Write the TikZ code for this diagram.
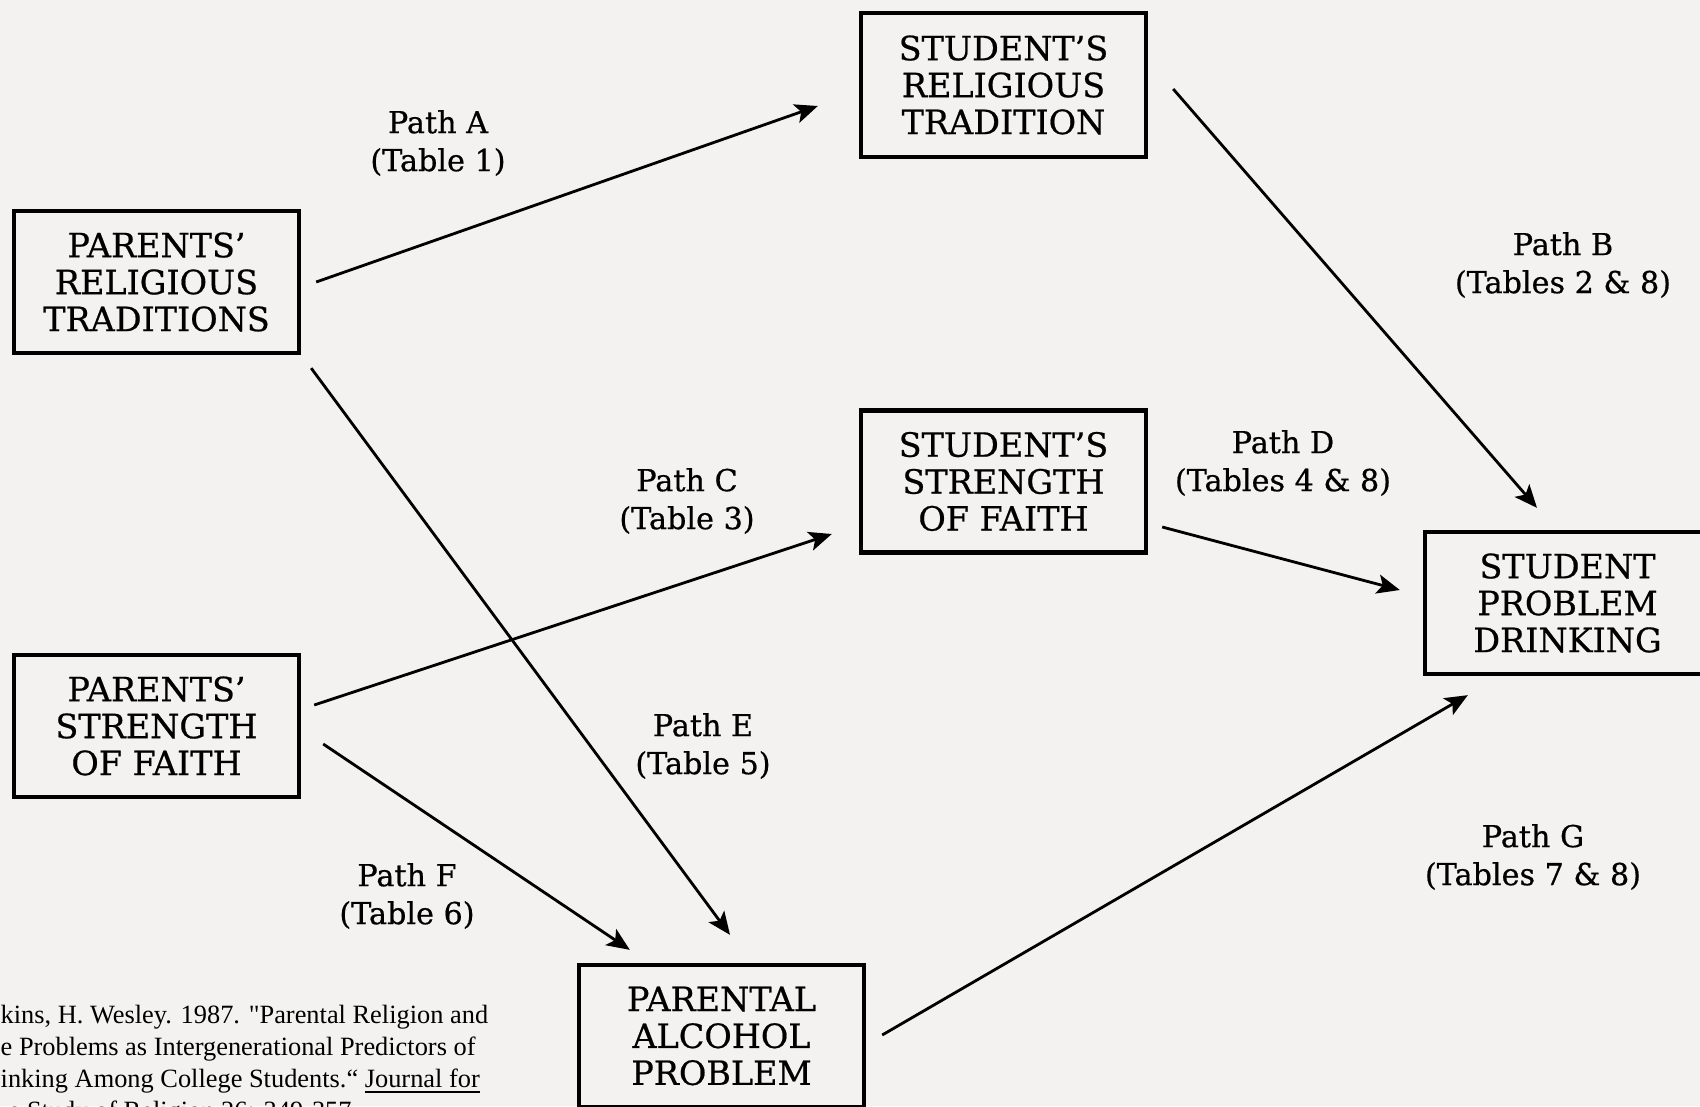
\documentclass[tikz,border=0pt]{standalone}
\usepackage{fontspec}
\setmainfont{DejaVu Serif}[FakeBold=0.6]
\newfontfamily\citefont{Liberation Serif}
\usetikzlibrary{arrows.meta}
\definecolor{paper}{RGB}{244,242,240}
\begin{document}
\begin{tikzpicture}[x=0.01cm,y=-0.01cm,
	box/.style={draw,line width=1.2pt,minimum width=2.85cm,minimum height=1.42cm,align=center,inner sep=0pt,font=\fontsize{9.5}{10.5}\selectfont},
	path label/.style={align=center,inner sep=0pt,font=\fontsize{8.6}{10.8}\selectfont},
	arr/.style={-{Stealth[length=6.5pt,width=5.5pt,inset=1.5pt]},line width=0.8pt},
	cite/.style={anchor=base west,inner sep=0pt,font=\citefont\fontsize{7.5}{8.8}\selectfont}]
		\fill[paper] (0,0) rectangle (1700,1106);
		\useasboundingbox (0,0) rectangle (1700,1106);
		\clip (0,0) rectangle (1700,1106);

		\node(1) at (156.5,282)[box]{PARENTS'\\RELIGIOUS\\TRADITIONS};
		\node(2) at (156.5,726)[box]{PARENTS'\\STRENGTH\\OF FAITH};
		\node(3) at (1003.5,85)[box,minimum height=1.44cm]{STUDENT'S\\RELIGIOUS\\TRADITION};
		\node(4) at (1003.5,481.5)[box]{STUDENT'S\\STRENGTH\\OF FAITH};
		\node(5) at (1567.5,603)[box]{STUDENT\\PROBLEM\\DRINKING};
		\node(6) at (721.5,1036)[box]{PARENTAL\\ALCOHOL\\PROBLEM};

		\node(A) at (438,143)[path label]{Path A\\(Table 1)};
		\node(B) at (1563,265)[path label]{Path B\\(Tables 2 \& 8)};
		\node(C) at (687,501)[path label]{Path C\\(Table 3)};
		\node(D) at (1283,463)[path label]{Path D\\(Tables 4 \& 8)};
		\node(E) at (703,746)[path label]{Path E\\(Table 5)};
		\node(F) at (407,896)[path label]{Path F\\(Table 6)};
		\node(G) at (1533,857)[path label]{Path G\\(Tables 7 \& 8)};

		\draw[arr] ([shift={(15,0)}]1.east) to ([shift={(-41,21)}]3.west);
		\draw[arr] ([shift={(25,4)}]3.east) to ([shift={(-30.5,-22)}]5.north);
		\draw[arr] ([shift={(13,-21)}]2.east) to ([shift={(-27,52.5)}]4.west);
		\draw[arr] ([shift={(14,45.5)}]4.east) to ([shift={(-23,-13)}]5.west);
		\draw[arr] ([shift={(10,13)}]1.south east) to ([shift={(8.5,-28)}]6.north);
		\draw[arr] ([shift={(22,18)}]2.east) to ([shift={(53,-13)}]6.north west);
		\draw[arr] ([shift={(16,-1)}]6.east) to ([shift={(45,19)}]5.south west);

		\node(c1) at (0,1023)[cite]{kins, H. Wesley. 1987. "Parental Religion and};
		\node(c2) at (0,1055)[cite]{e Problems as Intergenerational Predictors of};
		\node(c3) at (0,1087)[cite]{inking Among College Students.“ \underline{Journal for}};
		\node(c4) at (8,1119)[cite]{e Study of Religion 26: 349-357};
	\end{tikzpicture}
\end{document}
